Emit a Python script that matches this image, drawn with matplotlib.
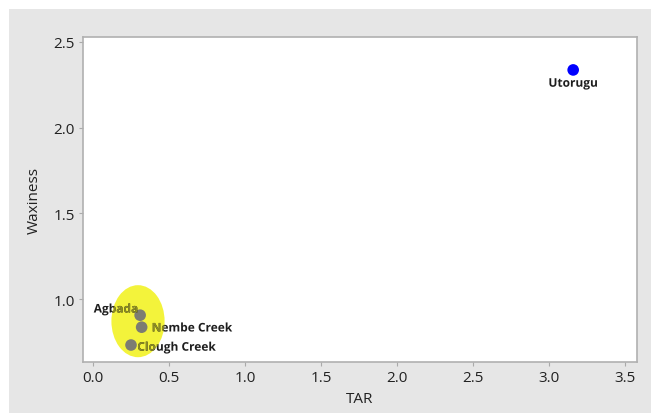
import matplotlib
matplotlib.use("Agg")
import matplotlib.pyplot as plt
from matplotlib.patches import Ellipse, Rectangle, PathPatch
from matplotlib.textpath import TextPath
from matplotlib.font_manager import FontProperties
from matplotlib.transforms import Affine2D, ScaledTranslation

# Oil field samples: TAR vs waxiness
fields = ["Agbada", "Nembe Creek", "Clough Creek", "Utorugu"]
tar = [0.31, 0.32, 0.25, 3.16]
waxiness = [0.907, 0.837, 0.733, 2.337]
colors = ["#7c7c72", "#7c7c72", "#7c7c72", "#0000ff"]

x_ticks = [0.0, 0.5, 1.0, 1.5, 2.0, 2.5, 3.0, 3.5]
y_ticks = [1.0, 1.5, 2.0, 2.5]

plt.rcParams["font.family"] = ["Open Sans", "DejaVu Sans"]

fig = plt.figure(figsize=(6.51, 4.14), dpi=100)
fig.patch.set_facecolor("white")
# grey panel behind the plot
fig.patches.append(Rectangle((9 / 651, 0), 1, 1 - 10 / 414, transform=fig.transFigure,
                             facecolor="#e6e6e6", edgecolor="none", zorder=-10))

ax = fig.add_axes([83 / 651, 1 - 363 / 414, (637 - 83) / 651, (363 - 38) / 414])
ax.set_facecolor("white")

ax.set_xlim(-0.066, 3.58)
ax.set_ylim(0.634, 2.529)

# highlighter mark around the low-TAR cluster
hl = Ellipse((0.296, 0.872), 0.35, 0.42, facecolor="#f2f226", edgecolor="none",
             alpha=0.9, zorder=1)
ax.add_patch(hl)

ax.scatter(tar, waxiness, s=70, c=colors, zorder=3, linewidths=0)

size = 8.6
prop = FontProperties(family="Open Sans", weight="bold")
pt = fig.dpi / 72.0

# label offsets in points, with horizontal alignment
offsets = [(-2, 5, "right"), (8, 0, "left"), (5, -1, "left"), (0, -9, "center")]
for name, x, y, (dx, dy, ha) in zip(fields, tar, waxiness, offsets):
    tp = TextPath((0, 0), name, size=size, prop=prop)
    ext = tp.get_extents()
    if ha == "right":
        sx = -ext.x1
    elif ha == "left":
        sx = -ext.x0
    else:
        sx = -(ext.x0 + ext.x1) / 2
    sy = -0.36 * size
    tr = (Affine2D().translate(dx + sx, dy + sy).scale(pt)
          + ScaledTranslation(x, y, ax.transData))
    ax.add_patch(PathPatch(tp, transform=tr, facecolor="#1e1e1e", edgecolor="none",
                           lw=0, zorder=4))
    # highlighter tint on the part of the text the mark covers
    tint = PathPatch(tp, transform=tr, facecolor="#8c8c22", edgecolor="none",
                     lw=0, zorder=5)
    ax.add_patch(tint)
    tint.set_clip_path(hl)

ax.set_xticks(x_ticks)
ax.set_xticklabels([f"{v:.1f}" for v in x_ticks])
ax.set_yticks(y_ticks)
ax.set_yticklabels([f"{v:.1f}" for v in y_ticks])
ax.tick_params(axis="both", labelsize=11, colors="#aaaaaa", labelcolor="#222222",
               length=3, width=0.8, pad=3)

for sp in ax.spines.values():
    sp.set_color("#b0b0b0")
    sp.set_linewidth(1.2)

ax.set_xlabel("TAR", fontsize=11, color="#222222", labelpad=4)
ax.set_ylabel("Waxiness", fontsize=11, color="#222222", labelpad=8)

fig.savefig("out.png", dpi=100)
